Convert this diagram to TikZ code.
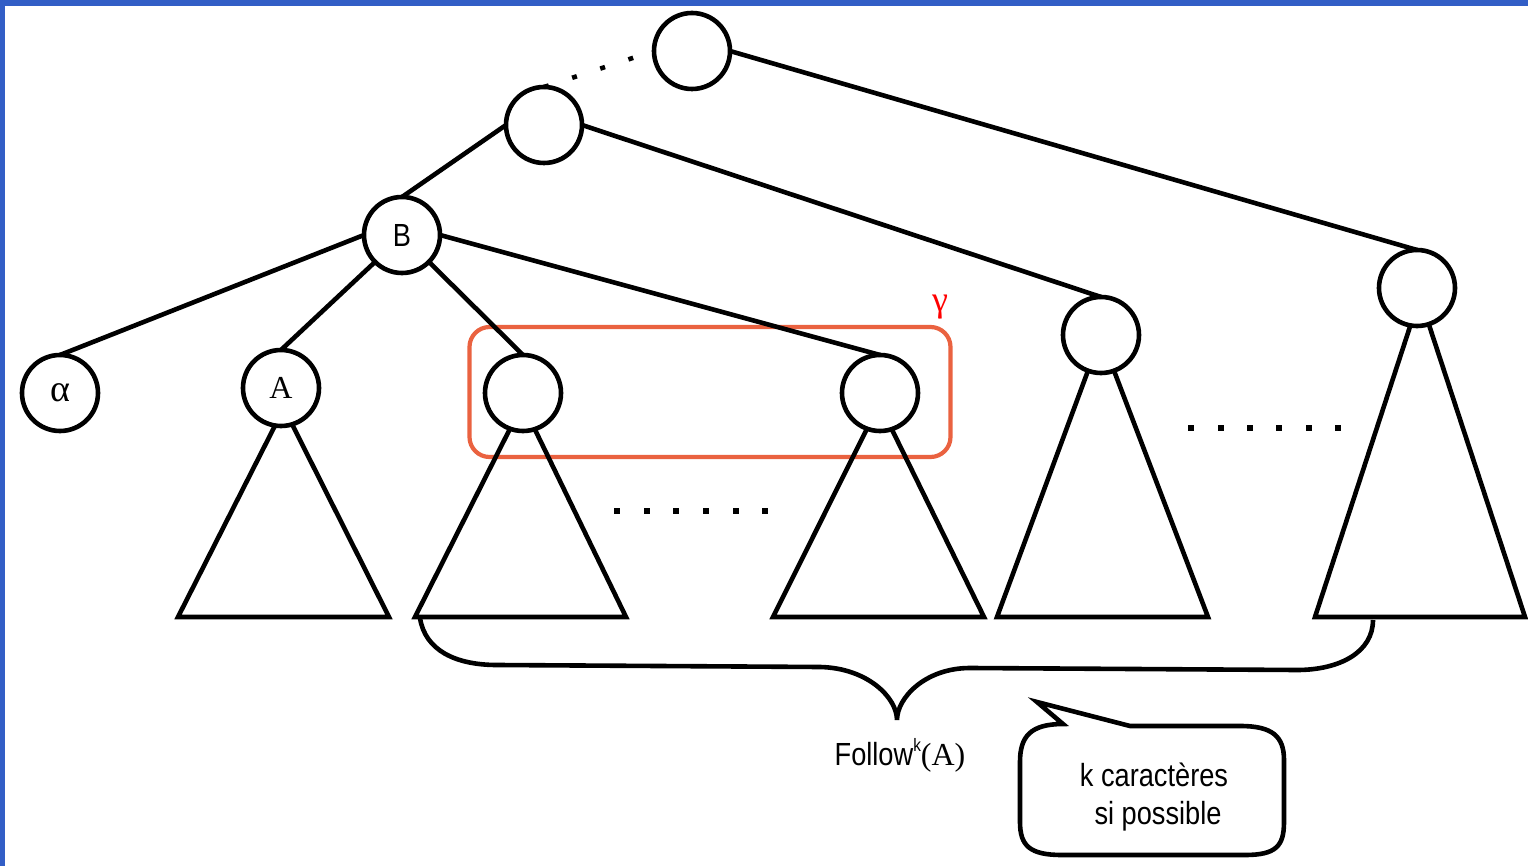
\documentclass[tikz,border=0pt]{standalone}
\usepackage{fontspec}
\setmainfont{Liberation Serif}
\setsansfont{Liberation Sans}
\usepackage{graphicx}
\definecolor{frameblue}{RGB}{50,94,198}
\definecolor{boxorange}{RGB}{234,98,64}
\newcommand{\nar}[1]{\scalebox{0.85}[1]{#1}}
\begin{document}
\begin{tikzpicture}[x=0.5pt,y=-0.5pt,
  tnode/.style={circle,draw,line width=2.3pt,fill=white,minimum size=38pt,inner sep=0pt,outer sep=0pt},
  edge/.style={line width=2.3pt},
  tri/.style={line width=2.3pt,line join=miter},
  dotsq/.style={fill=black},
  gbox/.style={draw=boxorange,line width=2.1pt,rounded corners=10pt,minimum width=240.5pt,minimum height=65pt,inner sep=0pt},
  sanslbl/.style={font=\sffamily\fontsize{16}{16}\selectfont},
]
\useasboundingbox (0,0) rectangle (1528,866);
\fill[frameblue] (0,0) rectangle (1528,6);
\fill[frameblue] (0,0) rectangle (5,866);

% gamma box (behind the tree)
\node[gbox] (gb) at (710,392) {};
\node[text=red,font=\fontsize{18}{18}\selectfont] (gam) at (940,307) {γ};

% nodes
\node[tnode] (top) at (692,51) {};
\node[tnode] (n2) at (544,125) {};
\node[tnode,sanslbl] (b) at (402,235) {\nar{B}};
\node[tnode,font=\fontsize{19}{19}\selectfont] (al) at (60,393) {α};
\node[tnode,font=\fontsize{16}{16}\selectfont] (a) at (281,388) {A};
\node[tnode] (c1) at (523,393) {};
\node[tnode] (c2) at (880,393) {};
\node[tnode] (d) at (1101,335) {};
\node[tnode] (e) at (1417,288) {};

% edges
\draw[edge] (al.north) -- (b.west);
\draw[edge] (a.north) -- (b.south west);
\draw[edge] (c1.north) -- (b.south east);
\draw[edge] (c2.north) -- (b.east);
\draw[edge] (b.north) -- (n2.west);
\draw[edge] (n2.east) -- (d.north);
\draw[edge] (top.east) -- (e.north);
\draw[edge,dash pattern=on 2.5pt off 12.3pt] (n2.north) -- (top.west);

% triangle base corners
\coordinate (aL) at (178,617);  \coordinate (aR) at (389,617);
\coordinate (c1L) at (415,617); \coordinate (c1R) at (626,617);
\coordinate (c2L) at (773,617); \coordinate (c2R) at (984,617);
\coordinate (dL) at (997,617);  \coordinate (dR) at (1208,617);
\coordinate (eL) at (1315,617); \coordinate (eR) at (1525,617);

\draw[tri] (a.261) -- (aL) -- (aR) -- (a.287);
\draw[tri] (c1.250) -- (c1L) -- (c1R) -- (c1.288);
\draw[tri] (c2.250) -- (c2L) -- (c2R) -- (c2.288);
\draw[tri] (d.250) -- (dL) -- (dR) -- (d.290);
\draw[tri] (e.260) -- (eL) -- (eR) -- (e.288);

% dotted rows
\foreach \x in {617,647,676,706,736,765} \fill[dotsq] (\x-3,508) rectangle (\x+3,514);
\foreach \x in {1191,1221,1250,1279,1309,1338} \fill[dotsq] (\x-3,425) rectangle (\x+3,431);

% brace
\coordinate (brL) at (420,618);
\coordinate (brT) at (897,720);
\coordinate (brR) at (1373,620);
\draw[edge] (brL) .. controls (425,650) and (455,665) .. (497,665) -- (820,667)
  .. controls (868,668) and (897,698) .. (brT)
  .. controls (897,698) and (925,668) .. (970,668) -- (1297,670)
  .. controls (1340,670) and (1373,652) .. (brR);

\node[inner sep=0pt] (fol) at (900,755)
  {\nar{\sffamily\fontsize{16}{16}\selectfont Follow}\raisebox{7pt}{\nar{\sffamily\fontsize{9}{9}\selectfont k}}{\fontsize{16}{16}\selectfont(A)}};

% callout
\coordinate (tip) at (1037,702);
\draw[edge] (1063,724) .. controls (1030,724) and (1020,737) .. (1020,762) -- (1020,822)
  .. controls (1020,846) and (1030,855) .. (1062,855) -- (1245,855)
  .. controls (1276,855) and (1284,846) .. (1284,822) -- (1284,760)
  .. controls (1284,736) and (1272,726) .. (1240,726) -- (1130,726) -- (tip) -- cycle;
\node[sanslbl] (k1) at (1154,775) {\nar{k caractères}};
\node[sanslbl] (k2) at (1158,816) {\nar{si possible}};
\end{tikzpicture}
\end{document}
